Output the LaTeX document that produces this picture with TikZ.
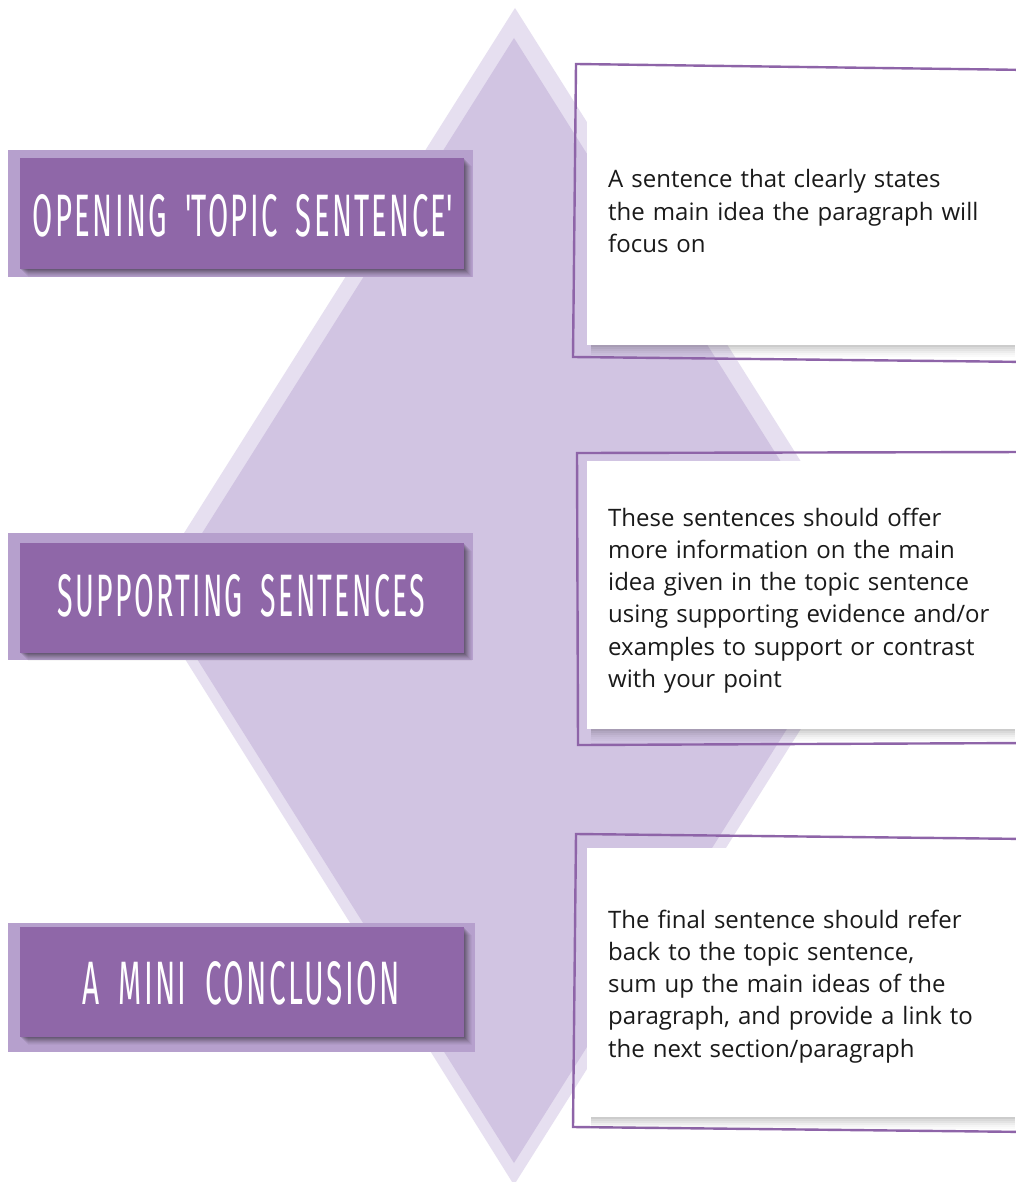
\documentclass[tikz,border=0pt]{standalone}
\usepackage{fontspec}
\usepackage{graphicx}
\setmainfont{Open Sans}
\newfontfamily\labelfont{Fira Sans}[LetterSpace=8,WordSpace=1.8]
\definecolor{dmout}{HTML}{E6DFF0}
\definecolor{dmin}{HTML}{D1C4E2}
\definecolor{lblight}{HTML}{B6A0CD}
\definecolor{lbdark}{HTML}{8F67A8}
\definecolor{framec}{HTML}{8E64A8}
\definecolor{txt}{HTML}{1A1A1A}
\tikzset{
  x=1pt, y=-1pt,
  lightbox/.style={fill=lblight},
  darkbox/.style={fill=lbdark},
  frameline/.style={draw=framec, line width=2.4pt},
  whitebox/.style={fill=white},
  labeltext/.style={text=white, inner sep=0pt, anchor=center},
  bodytext/.style={text=txt, inner sep=0pt, anchor=base west, text width=420pt, align=left,
    font=\fontsize{24}{32.3}\selectfont},
}
\newcommand{\lblshadow}[4]{% x1 y1 x2 y2 of dark box
  \foreach \k/\op in {1/0.10,2/0.09,3/0.08,4/0.07,5/0.06,6/0.05,7/0.04,8/0.03}{
    \fill[black, opacity=\op] (#1+\k,#2+\k) rectangle (#3+\k,#4+\k);
  }}
\newcommand{\wbshadow}[3]{% x1 x2 ybottom
  \foreach \k/\op in {0/0.20,2/0.15,4/0.11,6/0.07,8/0.04,10/0.02}{
    \fill[black, opacity=\op] (#1+4,#3+\k) rectangle (#2,#3+\k+2);
  }}
\begin{document}
\begin{tikzpicture}
\useasboundingbox (0,0) rectangle (1015,1182);
\fill[white] (0,0) rectangle (1015,1182);
% diamond
\fill[dmout] (515,8) -- (885,595) -- (514,1185) -- (145,595) -- cycle;
\fill[dmin] (514,38) -- (868,600) -- (514,1163) -- (160,600) -- cycle;

% left label boxes
\fill[lightbox] (8,150) rectangle (473,277);
\lblshadow{20}{158}{464}{269}
\fill[darkbox] (20,158) rectangle (464,269);
\node[labeltext] (l1) at (243,216) {\resizebox{420pt}{42pt}{\labelfont OPENING \textquotesingle TOPIC SENTENCE\textquotesingle}};

\fill[lightbox] (8,533) rectangle (473,660);
\lblshadow{20}{543}{464}{653}
\fill[darkbox] (20,543) rectangle (464,653);
\node[labeltext] (l2) at (241.5,596) {\resizebox{367pt}{42pt}{\labelfont SUPPORTING SENTENCES}};

\fill[lightbox] (8,923) rectangle (475,1052);
\lblshadow{20}{927}{464}{1037}
\fill[darkbox] (20,927) rectangle (464,1037);
\node[labeltext] (l3) at (241.5,983.5) {\resizebox{317pt}{43pt}{\labelfont A MINI CONCLUSION}};

% right text boxes
\draw[frameline] (1030,70) -- (576,64) -- (573,357) -- (1030,362);
\wbshadow{587}{1015}{345}
\fill[whitebox] (587,76) rectangle (1020,345);
\node[bodytext] (t1) at (608,188) {A sentence that clearly states\\the main idea the paragraph will\\focus on};

\draw[frameline] (1030,452) -- (577,453) -- (578,745) -- (1030,743);
\wbshadow{587}{1015}{729}
\fill[whitebox] (587,461) rectangle (1020,729);
\node[bodytext] (t2) at (608,526) {These sentences should offer\\more information on the main\\idea given in the topic sentence\\using supporting evidence and/or\\examples to support or contrast\\with your point};

\draw[frameline] (1030,839) -- (576,834) -- (573,1127) -- (1030,1132);
\wbshadow{587}{1015}{1117}
\fill[whitebox] (587,848) rectangle (1020,1117);
\node[bodytext] (t3) at (608,928) {The final sentence should refer\\back to the topic sentence,\\sum up the main ideas of the\\paragraph, and provide a link to\\the next section/paragraph};
\end{tikzpicture}
\end{document}
